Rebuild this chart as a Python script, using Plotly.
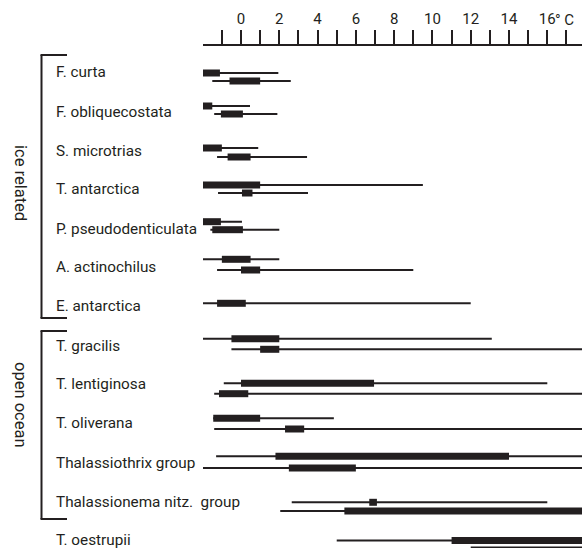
import plotly.graph_objects as go

# ---------------- data ----------------
species = ["F. curta", "F. obliquecostata", "S. microtrias", "T. antarctica",
           "P. pseudodenticulata", "A. actinochilus", "E. antarctica",
           "T. gracilis", "T. lentiginosa", "T. oliverana",
           "Thalassiothrix group", "Thalassionema nitz.  group", "T. oestrupii"]

# each row: total range (thin line) and core range (thick bar), in deg C
row_species = [0, 0, 1, 1, 2, 2, 3, 3, 4, 4, 5, 5, 6,
               7, 7, 8, 8, 9, 9, 10, 10, 11, 11, 12, 12]
range_lo = [-2.0, -1.5, -2.0, -1.4, -2.0, -1.25, -2.0, -1.2, -2.0, -1.6, -2.0, -1.25, -2.0,
            -2.0, -0.5, -0.9, -1.4, -1.45, -1.4, -1.3, -2.0, 2.65, 2.05, 5.0, 12.0]
range_hi = [1.95, 2.6, 0.47, 1.9, 0.9, 3.45, 9.5, 3.5, 0.05, 2.0, 2.0, 9.0, 12.0,
            13.1, 18.0, 16.0, 18.0, 4.85, 18.0, 18.0, 18.0, 16.0, 18.0, 18.0, 18.0]
core_lo = [-2.0, -0.6, -2.0, -1.05, -2.0, -0.7, -2.0, 0.05, -2.0, -1.5, -1.0, 0.0, -1.25,
           -0.5, 1.0, 0.0, -1.15, -1.45, 2.3, 1.8, 2.5, 6.7, 5.4, 11.0, None]
core_hi = [-1.1, 1.0, -1.5, 0.1, -1.0, 0.5, 1.0, 0.6, -1.05, 0.1, 0.5, 1.0, 0.25,
           2.0, 2.0, 6.95, 0.38, 1.0, 3.3, 14.0, 6.0, 7.1, 18.0, 18.0, None]

tick_vals = list(range(-1, 18))
tick_text = [str(v) if (v % 2 == 0 and 0 <= v <= 16) else "" for v in tick_vals]

groups = ["ice related", "open ocean"]

# ---------------- layout (pixel positions) ----------------
W, H = 582, 548
PL, PR, PT, PB = 203, 582, 46, 548
row_y = [73, 81, 106, 114, 148, 157, 185, 193, 221.7, 229.7, 259.3, 270, 303.3,
         338.7, 349.3, 383.3, 393.7, 418.3, 429, 456.3, 468, 502.3, 511, 540.5, 547.5]
label_y = [71.5, 111, 150, 188.5, 228, 266, 305, 345, 383.5, 422.5, 462, 501.5, 539]
bracket_top = [55, 331]
bracket_bot = [318, 519]
group_text_y = [183, 405]

INK = "#231f20"
FONT = "Roboto"

def px(x):
    return (x - PL) / (PR - PL)

def py(y):
    return (PB - y) / (PB - PT)

# x-range so that the axis matches pixels: 0 -> 241 px, 16 -> 547.3 px
u = (547.3 - 241) / 16.0
x0 = (PL - 241) / u
x1 = (PR - 241) / u

thin_x, thin_y, thick_x, thick_y = [], [], [], []
for i in range(len(row_species)):
    thin_x += [range_lo[i], range_hi[i], None]
    thin_y += [row_y[i], row_y[i], None]
    if core_lo[i] is not None:
        thick_x += [core_lo[i], core_hi[i], None]
        thick_y += [row_y[i], row_y[i], None]

fig = go.Figure()
fig.add_trace(go.Scatter(x=thin_x, y=thin_y, mode="lines",
                         line=dict(color=INK, width=2), hoverinfo="skip",
                         showlegend=False))
fig.add_trace(go.Scatter(x=thick_x, y=thick_y, mode="lines",
                         line=dict(color=INK, width=7), hoverinfo="skip",
                         showlegend=False))

annotations = []
for name, ly in zip(species, label_y):
    annotations.append(dict(x=px(54), y=py(ly + 0.5), xref="paper", yref="paper",
                            text=name, showarrow=False, xanchor="left",
                            yanchor="middle",
                            font=dict(family=FONT, size=15.3, color=INK)))
for g, gy in zip(groups, group_text_y):
    annotations.append(dict(x=px(21), y=py(gy), xref="paper", yref="paper",
                            text=g, showarrow=False, textangle=90,
                            xanchor="center", yanchor="middle",
                            font=dict(family=FONT, size=16.5, color=INK)))
annotations.append(dict(x=px(553), y=py(20), xref="paper", yref="paper",
                        text="° C", showarrow=False, xanchor="left",
                        yanchor="middle",
                        font=dict(family=FONT, size=15, color=INK)))

shapes = []
for t, b in zip(bracket_top, bracket_bot):
    shapes.append(dict(type="line", xref="paper", yref="paper",
                       x0=px(41.5), x1=px(41.5), y0=py(t), y1=py(b),
                       line=dict(color=INK, width=2)))
    for yy in (t, b):
        shapes.append(dict(type="line", xref="paper", yref="paper",
                           x0=px(40.5), x1=px(67), y0=py(yy), y1=py(yy),
                           line=dict(color=INK, width=2)))

fig.update_layout(
    width=W, height=H,
    margin=dict(l=PL, r=W - PR, t=PT, b=H - PB, pad=0),
    paper_bgcolor="white", plot_bgcolor="white",
    xaxis=dict(range=[x0, x1], side="top", showgrid=False, zeroline=False,
               showline=True, linecolor=INK, linewidth=2,
               ticks="outside", ticklen=14, tickwidth=1.5, tickcolor=INK,
               tickvals=tick_vals, ticktext=tick_text,
               tickfont=dict(family=FONT, size=15, color=INK)),
    yaxis=dict(range=[PB, PT], visible=False, showgrid=False, zeroline=False),
    annotations=annotations, shapes=shapes,
)

fig.write_html("out.html")
